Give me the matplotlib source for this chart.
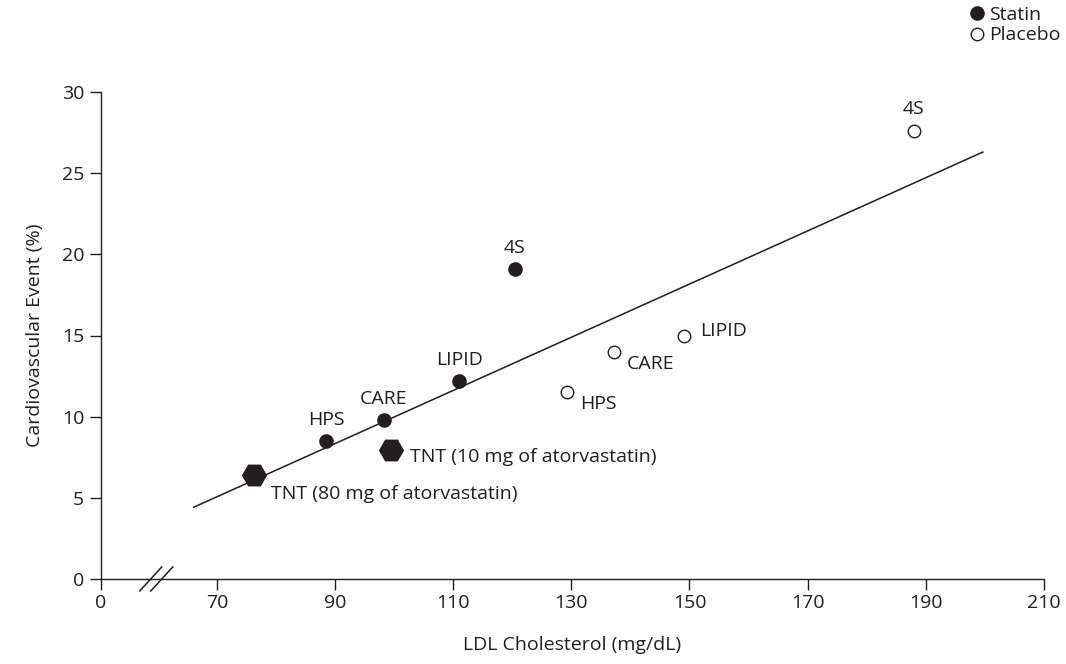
import numpy as np
import matplotlib.pyplot as plt
from matplotlib.lines import Line2D
from matplotlib.transforms import IdentityTransform

plt.rcParams['font.family'] = ['Open Sans', 'DejaVu Sans']

# valores
estudios_statin = ['HPS', 'CARE', 'LIPID', '4S']
ldl_statin = [88.5, 98.2, 111.0, 120.4]
evento_statin = [8.5, 9.8, 12.2, 19.1]

estudios_placebo = ['HPS', 'CARE', 'LIPID', '4S']
ldl_placebo = [129.2, 137.2, 149.0, 188.0]
evento_placebo = [11.5, 14.0, 15.0, 27.6]

estudios_tnt = ['TNT (80 mg of atorvastatin)', 'TNT (10 mg of atorvastatin)']
ldl_tnt = [76.3, 99.4]
evento_tnt = [6.4, 7.95]

recta_ldl = [66.0, 199.7]
recta_evento = [4.42, 26.3]

xticks = [0, 70, 90, 110, 130, 150, 170, 190, 210]
yticks = [0, 5, 10, 15, 20, 25, 30]

negro = '#231f20'
CORTE = 60
CERO = 50.3


# eje x comprimido entre 0 y el corte
def ida(x):
    x = np.asarray(x, dtype=float)
    return np.where(x >= CORTE, x, CERO + x * (CORTE - CERO) / CORTE)


def vuelta(y):
    y = np.asarray(y, dtype=float)
    return np.where(y >= CORTE, y, (y - CERO) * CORTE / (CORTE - CERO))


fig = plt.figure(figsize=(10.66, 6.64), dpi=100)
ax = fig.add_axes([101 / 1066, 85 / 664, 942.6 / 1066, 487 / 664])
ax.set_xscale('function', functions=(ida, vuelta))
ax.set_xlim(0, 210)
ax.set_ylim(0, 30)

ax.plot(recta_ldl, recta_evento, color=negro, lw=1.1, zorder=1)
ax.plot(ldl_statin, evento_statin, 'o', ms=9.5, color=negro, zorder=3)
ax.plot(ldl_placebo, evento_placebo, 'o', ms=9, mfc='white', mec=negro, mew=1.0, zorder=3)
ax.plot(ldl_tnt, evento_tnt, 'H', ms=17, color=negro, zorder=3)

fs = 14
for nombre, x, y in zip(estudios_statin, ldl_statin, evento_statin):
    ax.annotate(nombre, (x, y), xytext=(0, 16), textcoords='offset pixels',
                ha='center', va='baseline', fontsize=fs, color=negro)

desp_placebo = [(13, -17), (13, -17), (17, -1), (0, 17)]
for nombre, x, y, d in zip(estudios_placebo, ldl_placebo, evento_placebo, desp_placebo):
    ax.annotate(nombre, (x, y), xytext=d, textcoords='offset pixels',
                ha='center' if d[0] == 0 else 'left', va='baseline', fontsize=fs, color=negro)

desp_tnt = [(17, -24), (19, -12)]
for nombre, x, y, d in zip(estudios_tnt, ldl_tnt, evento_tnt, desp_tnt):
    ax.annotate(nombre, (x, y), xytext=d, textcoords='offset pixels',
                ha='left', va='baseline', fontsize=fs, color=negro)

ax.set_xticks(xticks)
ax.set_xticklabels([str(t) for t in xticks])
ax.set_yticks(yticks)
ax.set_yticklabels([str(t) for t in yticks])
ax.minorticks_off()
ax.tick_params(direction='out', length=8, width=1, color=negro, labelcolor=negro, labelsize=fs)
ax.tick_params(axis='x', pad=3)
ax.tick_params(axis='y', pad=4)
for lado in ['top', 'right']:
    ax.spines[lado].set_visible(False)
for lado in ['left', 'bottom']:
    ax.spines[lado].set_color(negro)
    ax.spines[lado].set_linewidth(1.0)

ax.set_xlabel('LDL Cholesterol (mg/dL)', fontsize=fs, color=negro, labelpad=17)
ax.set_ylabel('Cardiovascular Event (%)', fontsize=fs, color=negro, labelpad=13)

# marcas de corte //
cx, cy = ax.transData.transform((58, 0))
for dx in [-5.6, 5.4]:
    fig.add_artist(Line2D([cx + dx - 11, cx + dx + 11], [cy - 12, cy + 12],
                          transform=IdentityTransform(), color=negro, lw=1.1, clip_on=False))

manejadores = [
    Line2D([], [], ls='', marker='o', ms=9.5, color=negro),
    Line2D([], [], ls='', marker='o', ms=9, mfc='white', mec=negro, mew=1.0),
]
fig.legend(manejadores, ['Statin', 'Placebo'], loc='upper left',
           bbox_to_anchor=(970 / 1066, 1 - 6 / 664), frameon=False, fontsize=fs,
           handlelength=0.7, handletextpad=0.3, labelspacing=0.12,
           borderpad=0, borderaxespad=0, labelcolor=negro)

fig.savefig('out.png', dpi=100)
